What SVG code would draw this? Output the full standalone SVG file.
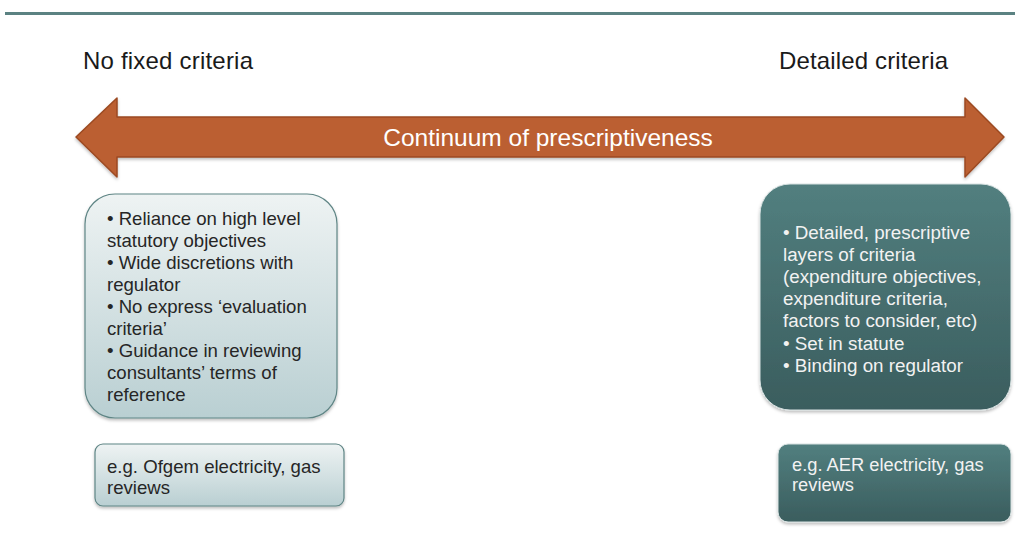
<svg xmlns="http://www.w3.org/2000/svg" width="1015" height="539" viewBox="0 0 1015 539">
  <defs>
    <linearGradient id="lightFill" x1="0" y1="0" x2="0" y2="1">
      <stop offset="0" stop-color="#eef3f3"/>
      <stop offset="1" stop-color="#b9cfd2"/>
    </linearGradient>
    <linearGradient id="darkFill" x1="0" y1="0" x2="0" y2="1">
      <stop offset="0" stop-color="#527f7f"/>
      <stop offset="1" stop-color="#3a5d5e"/>
    </linearGradient>
    <filter id="shadow" x="-10%" y="-10%" width="120%" height="130%">
      <feDropShadow dx="0" dy="2" stdDeviation="1.5" flood-color="#000" flood-opacity="0.25"/>
    </filter>
  </defs>
  <style>
    text { font-family: "Liberation Sans", Arial, sans-serif; }
    .heading { font-size: 24px; fill: #1a1a1a; }
    .body { font-size: 18.6px; fill: #262626; }
    .bodyLight { font-size: 18.8px; fill: #f2f2f2; }
    .lightBox { fill: url(#lightFill); stroke: #5f8585; stroke-width: 1.2; filter: url(#shadow); }
    .darkBox { fill: url(#darkFill); stroke: #d8e2e2; stroke-width: 1; filter: url(#shadow); }
  </style>
  <rect width="1015" height="539" fill="#ffffff"/>

  <!-- header rule -->
  <rect x="5" y="12" width="1010" height="3" fill="#5b8282"/>

  <text class="heading" x="83" y="69" textLength="170">No fixed criteria</text>
  <text class="heading" x="779" y="69" textLength="169">Detailed criteria</text>

  <!-- double-headed continuum arrow -->
  <g id="continuum">
    <path d="M76,137 L117,98 L117,117 L965,117 L965,98 L1004,137 L965,177 L965,157 L117,157 L117,177 Z"
          fill="#bb5f30" stroke="#9c4a22" stroke-width="1.5" stroke-linejoin="round" filter="url(#shadow)"/>
    <text x="548" y="146" text-anchor="middle" font-size="24.5" fill="#ffffff">Continuum of prescriptiveness</text>
  </g>

  <g id="low-criteria">
    <rect class="lightBox" x="85" y="194" width="252" height="224" rx="30"/>
    <text class="body">
      <tspan x="107" y="225">• Reliance on high level</tspan>
      <tspan x="107" y="247">statutory objectives</tspan>
      <tspan x="107" y="269">• Wide discretions with</tspan>
      <tspan x="107" y="291">regulator</tspan>
      <tspan x="107" y="313">• No express ‘evaluation</tspan>
      <tspan x="107" y="335">criteria’</tspan>
      <tspan x="107" y="357">• Guidance in reviewing</tspan>
      <tspan x="107" y="379">consultants’ terms of</tspan>
      <tspan x="107" y="401">reference</tspan>
    </text>
  </g>

  <g id="high-criteria">
    <rect class="darkBox" x="760" y="184" width="251" height="226" rx="30"/>
    <text class="bodyLight">
      <tspan x="783" y="239">• Detailed, prescriptive</tspan>
      <tspan x="783" y="261">layers of criteria</tspan>
      <tspan x="783" y="283">(expenditure objectives,</tspan>
      <tspan x="783" y="305">expenditure criteria,</tspan>
      <tspan x="783" y="327">factors to consider, etc)</tspan>
      <tspan x="783" y="350">• Set in statute</tspan>
      <tspan x="783" y="372">• Binding on regulator</tspan>
    </text>
  </g>

  <g id="example-ofgem">
    <rect class="lightBox" x="95" y="444" width="249" height="62" rx="8"/>
    <text class="body">
      <tspan x="107" y="473">e.g. Ofgem electricity, gas</tspan>
      <tspan x="107" y="494">reviews</tspan>
    </text>
  </g>

  <g id="example-aer">
    <rect class="darkBox" x="778" y="444" width="233" height="78" rx="10"/>
    <text class="bodyLight" style="font-size:18.3px">
      <tspan x="792" y="471">e.g. AER electricity, gas</tspan>
      <tspan x="792" y="491">reviews</tspan>
    </text>
  </g>
</svg>
